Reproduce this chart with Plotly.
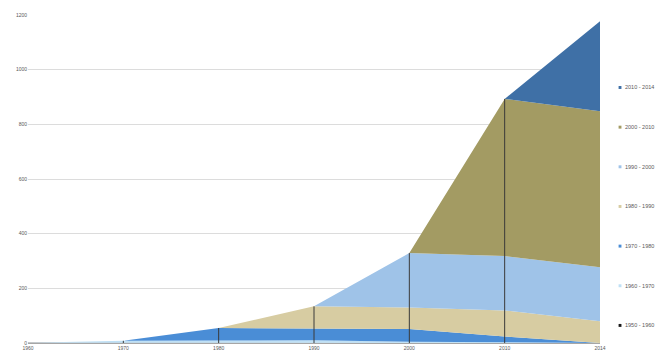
import plotly.graph_objects as go

years = ["1960", "1970", "1980", "1990", "2000", "2010", "2014"]

series_names = ["1950 - 1960", "1960 - 1970", "1970 - 1980", "1980 - 1990",
                "1990 - 2000", "2000 - 2010", "2010 - 2014"]
s1950 = [1, 1, 1, 1, 1, 0, 0]
s1960 = [0, 7, 8, 9, 4, 3, 0]
s1970 = [0, 0, 46, 44, 46, 21, 0]
s1980 = [0, 0, 0, 80, 79, 95, 80]
s1990 = [0, 0, 0, 0, 199, 199, 197]
s2000 = [0, 0, 0, 0, 0, 575, 571]
s2010 = [0, 0, 0, 0, 0, 0, 329]
series_values = [s1950, s1960, s1970, s1980, s1990, s2000, s2010]
colors = ["#1a1a1a", "#bfe0f5", "#4a8dd6", "#d7cca2", "#9fc3e8", "#a39b63", "#3f70a6"]

fig = go.Figure()
n = len(series_names)
for i, (name, vals, col) in enumerate(zip(series_names, series_values, colors)):
    fig.add_trace(go.Scatter(
        x=years, y=vals, name=name, stackgroup="one", mode="lines",
        line=dict(width=0, color=col), fillcolor=col, showlegend=False,
    ))

# drop lines at each inner category, from baseline to top of stack
totals = [sum(v[i] for v in series_values) for i in range(len(years))]
for i in range(1, len(years) - 1):
    fig.add_shape(type="line", xref="x", yref="y", x0=i, x1=i,
                  y0=0, y1=totals[i], line=dict(color="#3a3a3a", width=1),
                  layer="above")

# custom legend (top entry = newest series)
for k in range(n):
    idx = n - 1 - k
    yc = 0.779 - k * 0.1209
    fig.add_shape(type="rect", xref="paper", yref="paper",
                  x0=1.0325, x1=1.0375, y0=yc - 0.0045, y1=yc + 0.0045,
                  fillcolor=colors[idx], line=dict(width=0))
    fig.add_annotation(xref="paper", yref="paper", x=1.0395, y=yc,
                       xanchor="left", yanchor="middle", showarrow=False,
                       text=series_names[idx],
                       font=dict(size=5.5, color="#595959"))

fig.update_layout(
    width=655, height=363,
    margin=dict(l=28, r=55, t=14, b=14),
    paper_bgcolor="white", plot_bgcolor="white",
    font=dict(family="Liberation Sans, Arial, sans-serif", size=5, color="#595959"),
    showlegend=False,
    xaxis=dict(type="category", range=[0, 6], showgrid=False, showline=True,
               linecolor="#a6a6a6", linewidth=1, ticks="", tickfont=dict(size=5)),
    yaxis=dict(range=[0, 1200], tickvals=[0, 200, 400, 600, 800, 1000, 1200],
               showgrid=True, gridcolor="#dcdcdc", gridwidth=1, zeroline=False,
               showline=False, ticks="", tickfont=dict(size=5)),
)

fig.write_html("out.html")
